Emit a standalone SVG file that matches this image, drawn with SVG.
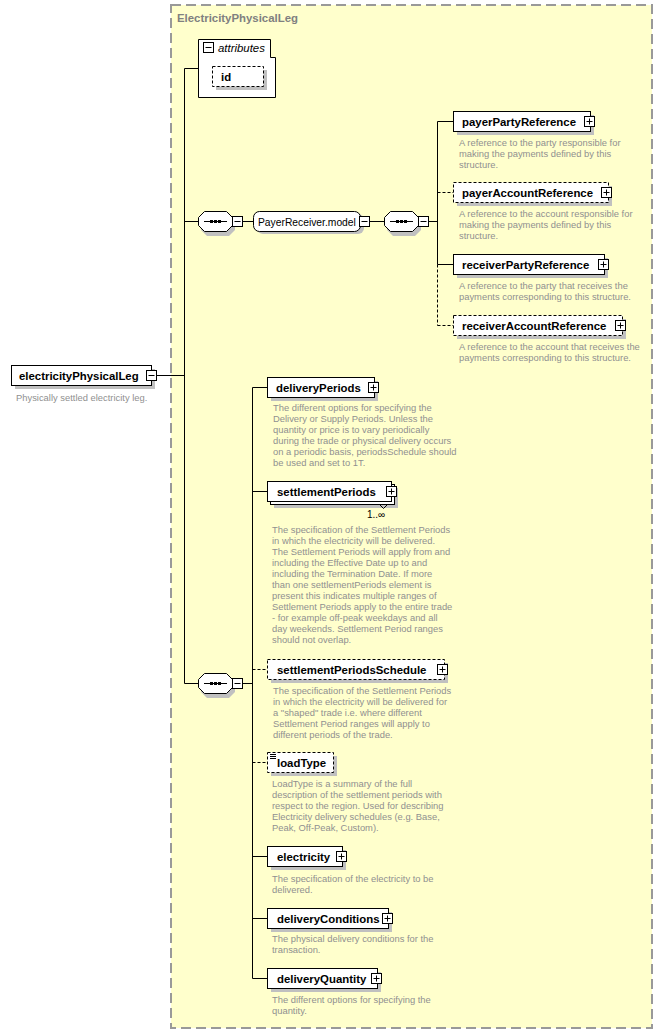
<svg xmlns="http://www.w3.org/2000/svg" width="663" height="1034" viewBox="0 0 663 1034">
<style>
.bx{fill:#fff;stroke:#000;stroke-width:1}
.dbx{fill:#fff;stroke:#000;stroke-width:1;stroke-dasharray:3,2}
.sh{fill:#c0c0c0}
.nm{font-family:"Liberation Sans",Arial,sans-serif;font-size:11.4px;font-weight:bold;fill:#000}
.ds{font-family:"Liberation Sans",Arial,sans-serif;font-size:9.4px;fill:#909090}
.ln{stroke:#000;stroke-width:1;fill:none}
.dl{stroke:#000;stroke-width:1;fill:none;stroke-dasharray:3,2}
</style>
<defs>
<symbol id="plus" overflow="visible"><rect x="0.5" y="0.5" width="10" height="10" fill="#fff" stroke="#000"/><path d="M2.5,5.5H8.5M5.5,2.5V8.5" stroke="#000"/></symbol>
<symbol id="minus" overflow="visible"><rect x="0.5" y="0.5" width="10" height="10" fill="#fff" stroke="#000"/><path d="M2.5,5.5H8.5" stroke="#000"/></symbol>
<g id="seqshape">
<polygon points="9,3 31,3 37,9 37,19 31,25 9,25 3,19 3,9" class="sh"/>
<polygon points="6.5,0.5 28.5,0.5 34.5,6.5 34.5,14.5 28.5,20.5 6.5,20.5 0.5,14.5 0.5,6.5" class="bx"/>
<path d="M6,10.5H29" class="ln"/>
<rect x="12" y="9" width="3" height="3" fill="#000"/><rect x="16" y="9" width="3" height="3" fill="#000"/><rect x="20" y="9" width="3" height="3" fill="#000"/>
</g>
</defs>

<g id="container">
<rect x="171" y="5" width="481" height="1023" fill="#ffffcc" stroke="#999" stroke-width="2" stroke-dasharray="10,5"/>
<text x="177" y="22" class="nm" style="fill:#808080">ElectricityPhysicalLeg</text>
</g>

<g id="connectors">
<path d="M157,375.5H184.5M184.5,68.5V683.5M184.5,68.5H198.5M184.5,221.5H198.5M243,221.5H253.5M370,221.5H384.5M429,221.5H437.5M437.5,121.5V264.5M437.5,121.5H453.5M437.5,264.5H453.5" class="ln"/>
<path d="M437.5,264.5V325.5M437.5,325.5H453.5M437.5,192.5H453.5" class="dl"/>
<path d="M184.5,683.5H198.5M243,683.5H252.5M252.5,387.5V978.5M252.5,387.5H267.5M252.5,491.5H267.5M252.5,856.5H267.5M252.5,918.5H267.5M252.5,978.5H267.5" class="ln"/>
<path d="M252.5,669.5H267.5M252.5,762.5H267.5" class="dl"/>
</g>

<g id="electricityPhysicalLeg">
<rect x="15" y="369" width="140" height="20" class="sh"/>
<rect x="11.5" y="365.5" width="140" height="20" class="bx"/>
<text x="19" y="379.5" class="nm">electricityPhysicalLeg</text>
<use href="#minus" x="146" y="370"/>
<text x="16" y="401" class="ds">Physically settled electricity leg.</text>
</g>

<g id="attributes">
<path d="M198.5,39.5H270.5V57.5H275.5V97.5H198.5Z" class="bx"/>
<use href="#minus" x="203" y="42"/>
<text x="218" y="52" font-family="Liberation Sans,Arial,sans-serif" font-size="11.4" font-style="italic">attributes</text>
</g>
<g id="id">
<rect x="216" y="70" width="51" height="20" class="sh"/>
<rect x="212.5" y="66.5" width="51" height="20" class="dbx"/>
<text x="221" y="80.5" class="nm">id</text>
</g>

<g id="sequence1">
<use href="#seqshape" x="198" y="211"/>
<use href="#minus" x="232" y="216"/>
</g>
<g id="PayerReceiver.model">
<rect x="257" y="214" width="107" height="20" rx="6" class="sh"/>
<rect x="253.5" y="211.5" width="107" height="20" rx="6" class="bx"/>
<text x="258" y="225.5" font-family="Liberation Sans,Arial,sans-serif" font-size="10.3">PayerReceiver.model</text>
<use href="#minus" x="359" y="216"/>
</g>
<g id="sequence2">
<use href="#seqshape" x="384" y="211"/>
<use href="#minus" x="418" y="216"/>
</g>

<g id="payerPartyReference">
<rect x="457" y="115" width="137" height="20" class="sh"/>
<rect x="453.5" y="111.5" width="137" height="20" class="bx"/>
<text x="462" y="125.5" class="nm">payerPartyReference</text>
<use href="#plus" x="584" y="116"/>
<text class="ds"><tspan x="459" y="146">A reference to the party responsible for</tspan><tspan x="459" y="157">making the payments defined by this</tspan><tspan x="459" y="168">structure.</tspan></text>
</g>
<g id="payerAccountReference">
<rect x="457" y="186" width="155" height="20" class="sh"/>
<rect x="453.5" y="182.5" width="155" height="20" class="dbx"/>
<text x="462" y="196.5" class="nm">payerAccountReference</text>
<use href="#plus" x="601" y="187"/>
<text class="ds"><tspan x="459" y="217">A reference to the account responsible for</tspan><tspan x="459" y="228">making the payments defined by this</tspan><tspan x="459" y="239">structure.</tspan></text>
</g>
<g id="receiverPartyReference">
<rect x="457" y="258" width="151" height="20" class="sh"/>
<rect x="453.5" y="254.5" width="151" height="20" class="bx"/>
<text x="462" y="268.5" class="nm">receiverPartyReference</text>
<use href="#plus" x="598" y="259"/>
<text class="ds"><tspan x="459" y="289">A reference to the party that receives the</tspan><tspan x="459" y="300">payments corresponding to this structure.</tspan></text>
</g>
<g id="receiverAccountReference">
<rect x="457" y="319" width="169" height="20" class="sh"/>
<rect x="453.5" y="315.5" width="169" height="20" class="dbx"/>
<text x="462" y="329.5" class="nm">receiverAccountReference</text>
<use href="#plus" x="615" y="320"/>
<text class="ds"><tspan x="459" y="350">A reference to the account that receives the</tspan><tspan x="459" y="361">payments corresponding to this structure.</tspan></text>
</g>

<g id="sequence3">
<use href="#seqshape" x="198" y="673"/>
<use href="#minus" x="232" y="678"/>
</g>

<g id="deliveryPeriods">
<rect x="271" y="381" width="107" height="20" class="sh"/>
<rect x="267.5" y="377.5" width="107" height="20" class="bx"/>
<text x="276" y="391.5" class="nm">deliveryPeriods</text>
<use href="#plus" x="368" y="382"/>
<text class="ds"><tspan x="273" y="411">The different options for specifying the</tspan><tspan x="273" y="422">Delivery or Supply Periods. Unless the</tspan><tspan x="273" y="433">quantity or price is to vary periodically</tspan><tspan x="273" y="444">during the trade or physical delivery occurs</tspan><tspan x="273" y="455">on a periodic basis, periodsSchedule should</tspan><tspan x="273" y="466">be used and set to 1T.</tspan></text>
</g>

<g id="settlementPeriods">
<rect x="274" y="488" width="124" height="20" class="sh"/>
<rect x="270.5" y="484.5" width="124" height="20" class="bx"/>
<rect x="267.5" y="481.5" width="124" height="20" class="bx"/>
<text x="277" y="495.5" class="nm">settlementPeriods</text>
<use href="#plus" x="386" y="486"/>
<path d="M379.5,504.5L383.5,508.5L387.5,504.5" class="ln"/>
<text x="367" y="518" font-family="Liberation Sans,Arial,sans-serif" font-size="10">1..∞</text>
<text class="ds"><tspan x="272" y="533">The specification of the Settlement Periods</tspan><tspan x="272" y="544">in which the electricity will be delivered.</tspan><tspan x="272" y="555">The Settlement Periods will apply from and</tspan><tspan x="272" y="566">including the Effective Date up to and</tspan><tspan x="272" y="577">including the Termination Date. If more</tspan><tspan x="272" y="588">than one settlementPeriods element is</tspan><tspan x="272" y="599">present this indicates multiple ranges of</tspan><tspan x="272" y="610">Settlement Periods apply to the entire trade</tspan><tspan x="272" y="621">- for example off-peak weekdays and all</tspan><tspan x="272" y="632">day weekends. Settlement Period ranges</tspan><tspan x="272" y="643">should not overlap.</tspan></text>
</g>

<g id="settlementPeriodsSchedule">
<rect x="271" y="663" width="177" height="20" class="sh"/>
<rect x="267.5" y="659.5" width="177" height="20" class="dbx"/>
<text x="277" y="673.5" class="nm">settlementPeriodsSchedule</text>
<use href="#plus" x="437" y="664"/>
<text class="ds"><tspan x="273" y="694">The specification of the Settlement Periods</tspan><tspan x="273" y="705">in which the electricity will be delivered for</tspan><tspan x="273" y="716">a "shaped" trade i.e. where different</tspan><tspan x="273" y="727">Settlement Period ranges will apply to</tspan><tspan x="273" y="738">different periods of the trade.</tspan></text>
</g>

<g id="loadType">
<rect x="271" y="756" width="66" height="20" class="sh"/>
<rect x="267.5" y="752.5" width="66" height="20" class="dbx"/>
<path d="M270,754.5H276M270,756.5H276M270,758.5H276" class="ln"/>
<text x="277" y="766.5" class="nm">loadType</text>
<text class="ds"><tspan x="272" y="787">LoadType is a summary of the full</tspan><tspan x="272" y="798">description of the settlement periods with</tspan><tspan x="272" y="809">respect to the region. Used for describing</tspan><tspan x="272" y="820">Electricity delivery schedules (e.g. Base,</tspan><tspan x="272" y="831">Peak, Off-Peak, Custom).</tspan></text>
</g>

<g id="electricity">
<rect x="271" y="850" width="75" height="20" class="sh"/>
<rect x="267.5" y="846.5" width="75" height="20" class="bx"/>
<text x="277" y="860.5" class="nm">electricity</text>
<use href="#plus" x="336" y="851"/>
<text class="ds"><tspan x="272" y="882">The specification of the electricity to be</tspan><tspan x="272" y="893">delivered.</tspan></text>
</g>

<g id="deliveryConditions">
<rect x="271" y="912" width="121" height="20" class="sh"/>
<rect x="267.5" y="908.5" width="121" height="20" class="bx"/>
<text x="277" y="922.5" class="nm">deliveryConditions</text>
<use href="#plus" x="382" y="913"/>
<text class="ds"><tspan x="272" y="942">The physical delivery conditions for the</tspan><tspan x="272" y="953">transaction.</tspan></text>
</g>

<g id="deliveryQuantity">
<rect x="271" y="972" width="110" height="20" class="sh"/>
<rect x="267.5" y="968.5" width="110" height="20" class="bx"/>
<text x="277" y="982.5" class="nm">deliveryQuantity</text>
<use href="#plus" x="371" y="973"/>
<text class="ds"><tspan x="272" y="1003">The different options for specifying the</tspan><tspan x="272" y="1014">quantity.</tspan></text>
</g>
</svg>
